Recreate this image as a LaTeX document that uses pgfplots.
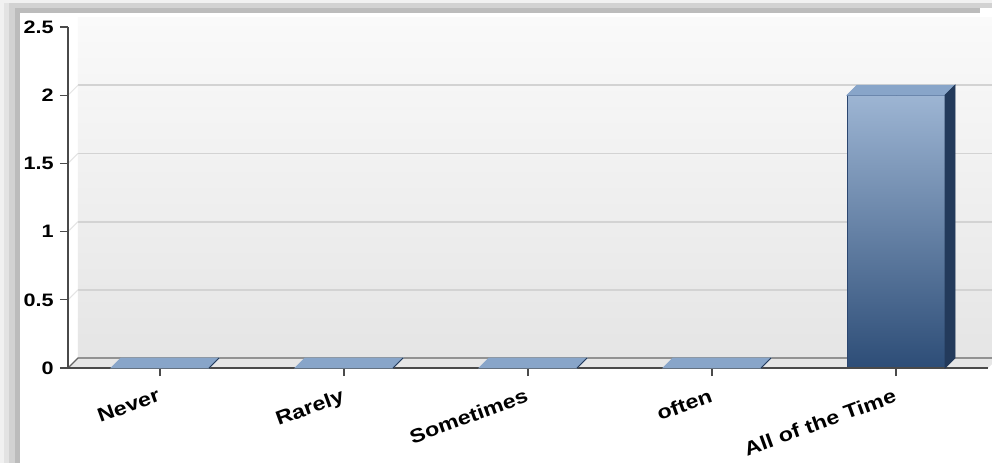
\documentclass[border=0pt]{standalone}
\usepackage{pgfplots}
\pgfplotsset{compat=1.18}
\usepackage{pgfplotstable}
\usepackage{fontspec}
\setmainfont{Liberation Sans}[FakeStretch=1.2]

\definecolor{wallTop}{HTML}{FAFAFA}
\definecolor{wallBot}{HTML}{E5E5E5}
\definecolor{floorC}{HTML}{E6E6E6}
\definecolor{gridC}{HTML}{D3D3D3}
\definecolor{gridDiag}{HTML}{E4E4E4}
\definecolor{axisC}{HTML}{4A4A4A}
\definecolor{barTop}{HTML}{9DB5D3}
\definecolor{barMid}{HTML}{436CA1}
\definecolor{barBot}{HTML}{2D4D77}
\definecolor{barEdge}{HTML}{2B4670}
\definecolor{capC}{HTML}{88A5C9}
\definecolor{sideC}{HTML}{233A5B}
\definecolor{shadeA}{HTML}{F1F1F1}
\definecolor{shadeB}{HTML}{E3E3E3}
\definecolor{shadeC}{HTML}{D2D2D2}
\definecolor{shadeD}{HTML}{BCBCBC}

% answers per frequency category
\pgfplotstableread{
x val
0 0
1 0
2 0
3 0
4 2
}\responses

\begin{document}
\begin{tikzpicture}
\useasboundingbox (0,0) rectangle (496pt,231.5pt);
% panel with its soft shadow on the left and top
\fill[white] (0,0) rectangle (496pt,231.5pt);
\fill[shadeA] (0,0) rectangle (2pt,231.5pt);
\fill[shadeB] (2pt,0) rectangle (4.5pt,231.5pt);
\fill[shadeC] (4.5pt,0) rectangle (7.5pt,231.5pt);
\fill[shadeD] (7.5pt,0) rectangle (10pt,229pt);
\fill[shadeA] (0,230pt) rectangle (496pt,231.5pt);
\fill[shadeC] (4.5pt,227.5pt) rectangle (496pt,230pt);
\fill[shadeD] (10pt,225pt) rectangle (490pt,227.5pt);

\begin{axis}[
  at={(34pt,47.5pt)}, anchor=south west,
  scale only axis, width=460pt, height=170.5pt,
  xmin=-0.5, xmax=4.5, ymin=0, ymax=2.5,
  clip=false, axis on top=true,
  axis x line*=bottom, axis y line*=left,
  axis line style={axisC, line width=0.8pt, -},
  xtick={0,1,2,3,4},
  xticklabels={Never,Rarely,Sometimes,often,All of the Time},
  ytick={0,0.5,1,1.5,2,2.5},
  tick align=outside, major tick length=4pt,
  tick style={axisC, line width=0.6pt},
  /pgf/number format/assume math mode=true,
  ticklabel style={font=\bfseries\fontsize{9pt}{11pt}\selectfont, text=black},
  yticklabel style={anchor=east, inner sep=0pt, xshift=-3pt},
  xticklabel style={font=\bfseries\fontsize{9.7pt}{11pt}\selectfont,
    rotate=20, anchor=north east, inner sep=0pt, yshift=-5pt, xshift=-3.5pt},
]
% back wall, floor and grid lines set back in depth
\shade[top color=wallTop, bottom color=wallBot]
  ([shift={(5pt,5pt)}]axis cs:-0.5,0) rectangle ([shift={(5pt,5pt)}]axis cs:4.5,2.5);
\fill[floorC] (axis cs:-0.5,0) -- (axis cs:4.5,0)
  -- ([shift={(5pt,5pt)}]axis cs:4.5,0) -- ([shift={(5pt,5pt)}]axis cs:-0.5,0) -- cycle;
\draw[axisC!85, line width=0.6pt] (axis cs:-0.5,0) -- ([shift={(5pt,5pt)}]axis cs:-0.5,0)
  -- ([shift={(5pt,5pt)}]axis cs:4.5,0);
\pgfplotsinvokeforeach{0.5,1,1.5,2}{
  \draw[gridC, line width=0.9pt] ([shift={(5pt,5pt)}]axis cs:-0.5,#1) -- ([shift={(5pt,5pt)}]axis cs:4.5,#1);
  \draw[gridDiag, line width=0.5pt] (axis cs:-0.5,#1) -- ([shift={(5pt,5pt)}]axis cs:-0.5,#1);
}

% front faces of the bars
\addplot[ybar, bar width=49pt, draw=barEdge, line width=0.4pt,
  top color=barTop, middle color=barMid, bottom color=barBot,
  restrict y to domain=0.001:10]
  table[x=x, y=val] {\responses};

% tops and right-hand sides of the bars
\addplot[only marks, mark=*, mark size=0pt, mark options={draw=none, fill=none},
  scatter,
  visualization depends on={\thisrow{val} \as \barval},
  scatter/@pre marker code/.code={%
    \pgfmathsetmacro\barh{\barval*68.2}%
    \fill[capC, fill opacity=1] (-24.5pt,0pt) -- (24.5pt,0pt) -- (29.5pt,5pt) -- (-19.5pt,5pt) -- cycle;
    \fill[sideC, fill opacity=1] (24.5pt,0pt) -- (29.5pt,5pt) -- (29.5pt,{5pt-\barh pt}) -- (24.5pt,{-\barh pt}) -- cycle;
    \begin{scope}
  },
  scatter/@post marker code/.code={\end{scope}},
] table[x=x, y=val] {\responses};
\end{axis}
\end{tikzpicture}
\end{document}
